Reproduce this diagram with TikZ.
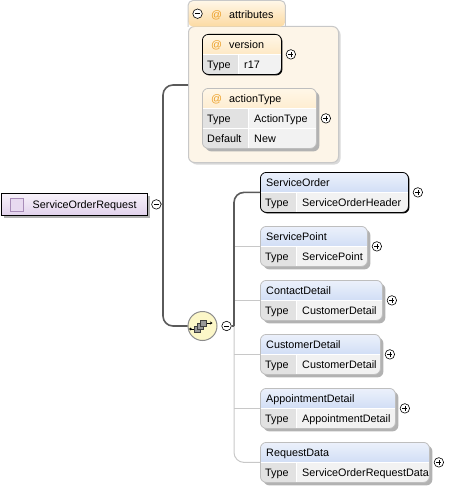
\documentclass[tikz,border=0pt]{standalone}
\usepackage{fontspec}
\setmainfont{Liberation Sans}
\usetikzlibrary{positioning,shadows,arrows.meta}

\definecolor{elemtop}{RGB}{236,241,251}
\definecolor{elembot}{RGB}{182,202,240}
\definecolor{attrtop}{RGB}{255,247,232}
\definecolor{attrbot}{RGB}{252,218,162}
\definecolor{keycell}{RGB}{226,226,226}
\definecolor{valcell}{RGB}{242,242,242}
\definecolor{boxline}{RGB}{190,190,190}
\definecolor{shadowgray}{RGB}{178,178,178}
\definecolor{panelfill}{RGB}{253,245,232}
\definecolor{panelline}{RGB}{200,200,200}
\definecolor{roottop}{RGB}{248,242,250}
\definecolor{rootbot}{RGB}{226,210,236}
\definecolor{iconfill}{RGB}{232,218,240}
\definecolor{iconline}{RGB}{168,140,184}
\definecolor{seqfill}{RGB}{252,247,200}
\definecolor{atcolor}{RGB}{236,160,40}
\definecolor{trunkgray}{RGB}{90,90,90}
\definecolor{branchgray}{RGB}{200,200,200}

\tikzset{
  cellsplit/.store in=\cellsplit, cellsplit=36pt,
  headtop/.store in=\headtop, headtop=elemtop,
  headbot/.store in=\headbot, headbot=elembot,
  rec/.style={draw=boxline, line width=0.8pt, fill=white, rounded corners=6pt, inner sep=0pt,
    anchor=north west, minimum height=40pt,
    path picture={
      \shade[sharp corners, top color=\headtop, bottom color=\headbot]
        (path picture bounding box.north west) rectangle ([yshift=-20pt]path picture bounding box.north east);
      \fill[sharp corners, keycell] ([yshift=-20pt]path picture bounding box.north west)
        rectangle ([xshift=\cellsplit]path picture bounding box.south west);
      \fill[sharp corners, valcell] ([xshift=\cellsplit,yshift=-20pt]path picture bounding box.north west)
        rectangle (path picture bounding box.south east);
      \draw[white, line width=1pt] ([yshift=-20pt]path picture bounding box.north west)
        -- ([yshift=-20pt]path picture bounding box.north east)
        ([xshift=\cellsplit,yshift=-20pt]path picture bounding box.north west)
        -- ([xshift=\cellsplit]path picture bounding box.south west);
    }},
  elem/.style={rec, headtop=elemtop, headbot=elembot},
  attr/.style={rec, headtop=attrtop, headbot=attrbot},
  soft/.style={drop shadow={shadow xshift=3pt, shadow yshift=-3pt, fill=shadowgray, opacity=1}},
  hard/.style={draw=black, drop shadow={shadow xshift=1pt, shadow yshift=-1pt, fill=black, opacity=1}},
  panel/.style={draw=panelline, line width=1pt, fill=panelfill, rounded corners=6pt, inner sep=0pt,
    anchor=north west, drop shadow={shadow xshift=2pt, shadow yshift=-2pt, fill=black!15, opacity=1}},
  tab/.style={top color=attrtop, bottom color=attrbot, rounded corners=5pt, inner sep=0pt, anchor=north west},
  rootbox/.style={draw=black, line width=0.8pt, top color=roottop, bottom color=rootbot, inner sep=0pt,
    anchor=north west, minimum height=22pt, soft},
  icon/.style={draw=iconline, fill=iconfill, line width=0.8pt, minimum size=13pt, inner sep=0pt},
  seqnode/.style={circle, draw=black!45, fill=seqfill, line width=1pt, minimum size=29pt, inner sep=0pt},
  sqicon/.style={fill=black!40, draw=black!75, line width=0.6pt},
  txt/.style={anchor=base west, inner sep=0pt, font=\fontsize{10.8}{13}\selectfont},
  atsign/.style={txt, text=atcolor},
  pm/.style={circle, draw, line width=0.6pt, fill=white, minimum size=9.5pt, inner sep=0pt},
  minus/.style={pm, path picture={\draw[line width=0.6pt]
    ([xshift=-2.5pt]path picture bounding box.center) -- ([xshift=2.5pt]path picture bounding box.center);}},
  plus/.style={pm, path picture={\draw[line width=0.6pt]
    ([xshift=-2.5pt]path picture bounding box.center) -- ([xshift=2.5pt]path picture bounding box.center)
    ([yshift=-2.5pt]path picture bounding box.center) -- ([yshift=2.5pt]path picture bounding box.center);}},
  trunk/.style={draw=trunkgray, line width=1.6pt},
  branch/.style={draw=branchgray, line width=1pt},
}

\begin{document}
\begin{tikzpicture}[x=1pt, y=-1pt]
  \useasboundingbox (0,0) rectangle (451,487);

  % attributes
  \node[panel, minimum width=150pt, minimum height=136pt] (attrs) at (188,26) {};
  \node[tab, minimum width=97pt, minimum height=26pt] (tab) at (188,0.5) {};
  \draw[panelline, line width=1pt, rounded corners=5pt] (tab.south west) |- (tab.north east) -- (tab.south east);
  \node[minus, right=4.5pt of tab.west] (tabminus) {};
  \node[atsign] at ([xshift=23pt,yshift=-18pt]tab.north west) {@};
  \node[txt] at ([xshift=41pt,yshift=-18pt]tab.north west) {attributes};

  \node[attr, hard, minimum width=79pt] (ver) at (202,34) {};
  \node[atsign] at ([xshift=9pt,yshift=-14.5pt]ver.north west) {@};
  \node[txt] at ([xshift=27pt,yshift=-14.5pt]ver.north west) {version};
  \node[txt] at ([xshift=5pt,yshift=-34pt]ver.north west) {Type};
  \node[txt] at ([xshift=42pt,yshift=-34pt]ver.north west) {r17};
  \node[plus, right=4pt of ver] (verplus) {};

  \node[attr, soft, cellsplit=46pt, minimum width=114pt, minimum height=60pt] (act) at (202,88) {};
  \draw[white, line width=1pt] ([xshift=0.6pt,yshift=-40pt]act.north west) -- ([xshift=-0.6pt,yshift=-40pt]act.north east);
  \node[atsign] at ([xshift=9pt,yshift=-14.5pt]act.north west) {@};
  \node[txt] at ([xshift=27pt,yshift=-14.5pt]act.north west) {actionType};
  \node[txt] at ([xshift=5pt,yshift=-34pt]act.north west) {Type};
  \node[txt] at ([xshift=52pt,yshift=-34pt]act.north west) {ActionType};
  \node[txt] at ([xshift=5pt,yshift=-54pt]act.north west) {Default};
  \node[txt] at ([xshift=52pt,yshift=-54pt]act.north west) {New};
  \node[plus, right=4pt of act] (actplus) {};

  % root element
  \node[rootbox, minimum width=146pt] (root) at (0.5,193) {};
  \node[icon] (rooticon) at ([xshift=16pt]root.west) {};
  \node[txt] at ([xshift=32pt,yshift=-15pt]root.north west) {ServiceOrderRequest};
  \node[minus, right=4pt of root] (rootminus) {};

  % sequence
  \node[seqnode] (seq) at (202.5,326) {};
  \draw[line width=0.8pt] ([shift={(-12,3)}]seq.center) -- +(4,0);
  \fill ([shift={(-12,3)}]seq.center) circle (1.3);
  \filldraw[sqicon] ([shift={(-8,0)}]seq.center) rectangle +(6,6);
  \filldraw[sqicon] ([shift={(-5,-3)}]seq.center) rectangle +(6,6);
  \filldraw[sqicon] ([shift={(-2,-6)}]seq.center) rectangle +(6,6);
  \draw[line width=0.8pt, -{Stealth[length=2.5pt,width=3pt]}] ([shift={(4,-3)}]seq.center) -- +(6,0);
  \node[minus, right=4pt of seq] (seqminus) {};

  % children
  \node[elem, hard, minimum width=148pt] (so) at (260,172) {};
  \node[txt] at ([xshift=6pt,yshift=-14.5pt]so.north west) {ServiceOrder};
  \node[txt] at ([xshift=5pt,yshift=-34pt]so.north west) {Type};
  \node[txt] at ([xshift=42pt,yshift=-34pt]so.north west) {ServiceOrderHeader};
  \node[plus, right=4pt of so] (soplus) {};

  \node[elem, soft, minimum width=107pt] (sp) at (260,226) {};
  \node[txt] at ([xshift=6pt,yshift=-14.5pt]sp.north west) {ServicePoint};
  \node[txt] at ([xshift=5pt,yshift=-34pt]sp.north west) {Type};
  \node[txt] at ([xshift=42pt,yshift=-34pt]sp.north west) {ServicePoint};
  \node[plus, right=4pt of sp] (spplus) {};

  \node[elem, soft, minimum width=122pt] (cd) at (260,280) {};
  \node[txt] at ([xshift=6pt,yshift=-14.5pt]cd.north west) {ContactDetail};
  \node[txt] at ([xshift=5pt,yshift=-34pt]cd.north west) {Type};
  \node[txt] at ([xshift=42pt,yshift=-34pt]cd.north west) {CustomerDetail};
  \node[plus, right=4pt of cd] (cdplus) {};

  \node[elem, soft, minimum width=120pt] (cu) at (260,334) {};
  \node[txt] at ([xshift=6pt,yshift=-14.5pt]cu.north west) {CustomerDetail};
  \node[txt] at ([xshift=5pt,yshift=-34pt]cu.north west) {Type};
  \node[txt] at ([xshift=42pt,yshift=-34pt]cu.north west) {CustomerDetail};
  \node[plus, right=4pt of cu] (cuplus) {};

  \node[elem, soft, minimum width=135pt] (ap) at (260,388) {};
  \node[txt] at ([xshift=6pt,yshift=-14.5pt]ap.north west) {AppointmentDetail};
  \node[txt] at ([xshift=5pt,yshift=-34pt]ap.north west) {Type};
  \node[txt] at ([xshift=42pt,yshift=-34pt]ap.north west) {AppointmentDetail};
  \node[plus, right=4pt of ap] (applus) {};

  \node[elem, soft, minimum width=169pt] (rd) at (260,442) {};
  \node[txt] at ([xshift=6pt,yshift=-14.5pt]rd.north west) {RequestData};
  \node[txt] at ([xshift=5pt,yshift=-34pt]rd.north west) {Type};
  \node[txt] at ([xshift=42pt,yshift=-34pt]rd.north west) {ServiceOrderRequestData};
  \node[plus, right=4pt of rd] (rdplus) {};

  % connectors
  \coordinate (jn) at (163,204);
  \coordinate (br) at (234,326);
  \draw[branch, rounded corners=10pt] (br) |- (rd.west);
  \draw[branch] (br |- sp.west) -- (sp.west);
  \draw[branch] (br |- cd.west) -- (cd.west);
  \draw[branch] (br |- cu.west) -- (cu.west);
  \draw[branch] (br |- ap.west) -- (ap.west);
  \draw[trunk] (seqminus) -- (br);
  \draw[trunk, rounded corners=10pt] (br) |- (so.west);
  \draw[trunk] (rootminus) -- (jn);
  \draw[trunk, rounded corners=10pt] ([yshift=-59pt]attrs.north west) -| (jn) |- (seq.west);
\end{tikzpicture}
\end{document}
